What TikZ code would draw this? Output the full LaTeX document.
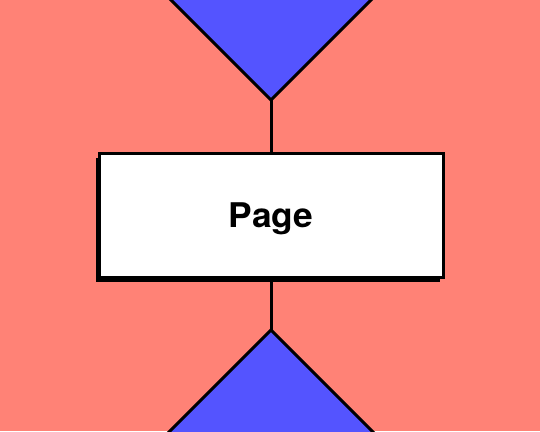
\documentclass[tikz,border=0pt]{standalone}
\usepackage{fontspec}
\setmainfont{TeX Gyre Heros}
\usetikzlibrary{shadows}
\definecolor{salmon}{HTML}{FF8276}
\definecolor{royal}{HTML}{5454FF}
\begin{document}
\begin{tikzpicture}[x=1pt,y=-1pt,line width=3pt]
    % background
    \fill[salmon] (0,0) rectangle (540,431);
    \useasboundingbox (0,0) rectangle (540,431);
    \clip (0,0) rectangle (540,431);

    \coordinate (topapex) at (271,100);
    \coordinate (botapex) at (271,330);
    \fill[royal, draw=black, line join=miter] (161,-10) -- (topapex) -- (381,-10) -- cycle;
    \fill[royal, draw=black, line join=miter] (160,441) -- (botapex) -- (382,441) -- cycle;

    \node[rectangle,
    draw=black,
    fill=white,
    minimum width = 344pt,
    minimum height = 124pt,
    text depth = 0pt,
    font=\fontsize{34}{34}\selectfont\bfseries,
    general shadow={fill=black, shadow xshift=-3pt, shadow yshift=-4.5pt}] (page) at (271,215.5) {\scalebox{1.04}[1]{Page}};

    \draw (topapex) -- (page.north);
    \draw (page.south) -- (botapex);
\end{tikzpicture}
\end{document}
